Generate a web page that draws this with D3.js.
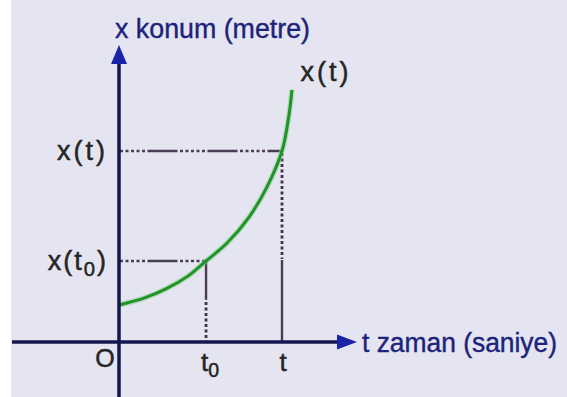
<!DOCTYPE html>
<html>
<head>
<meta charset="utf-8">
<script src="https://cdn.jsdelivr.net/npm/d3@7"></script>
<style>
  html, body { margin: 0; padding: 0; background: #ffffff; }
  svg { display: block; }
  text { font-family: "Liberation Sans", Arial, sans-serif; }
</style>
</head>
<body>
<svg id="chart" width="567" height="397"></svg>
<script>
// Position–time curve x(t), read as (time, position) pairs
const timeValues = [0, 1.53, 2.88, 4.23, 5.34, 6.63, 7.98, 9.08, 10, 10.43, 10.61];
const positionValues = [1.94, 2.30, 2.78, 3.45, 4.24, 5.18, 6.54, 8.12, 10, 11.9, 13.2];

// Marked instants and the positions at those instants
const markedTimes = [5.34, 10];
const markedPositions = [4.24, 10];
const timeTickLabels = ["t0", "t"];
const positionTickLabels = ["x(t0)", "x(t)"];

const curveLabel = "x(t)";
const originLabel = "O";
const xAxisTitle = "t zaman (saniye)";
const yAxisTitle = "x konum (metre)";

const W = 567, H = 397;
const svg = d3.select("#chart");

// Panel background
svg.append("rect").attr("x", 11).attr("y", -12).attr("width", W + 20).attr("height", H + 24)
  .attr("rx", 12).attr("fill", "#e5e5f1");

const x = d3.scaleLinear().domain([0, 10]).range([119, 282]);
const y = d3.scaleLinear().domain([0, 10]).range([342, 151]);

const tExtent = [x.invert(12), x.invert(350)];
const pExtent = [y.invert(H + 2), y.invert(56)];

const axisColor = "#14164e";
const arrowColor = "#1a24a8";
const guideColor = "#4a3c55";

// Guide lines: alternating dotted and solid runs
const dotRun = "3,2.5,3,2.5,3,2.5,3,2.5,3,2.5";
const hPattern = dotRun + ",30,2.5";
const guideW = 2.4;

const g = svg.append("g");

markedTimes.forEach((tv, i) => {
  const pv = markedPositions[i];
  // horizontal guide from the position axis to the curve
  g.append("line")
    .attr("x1", x(0) + 1).attr("x2", x(tv))
    .attr("y1", y(pv)).attr("y2", y(pv))
    .attr("stroke", guideColor).attr("stroke-width", guideW)
    .attr("stroke-dasharray", hPattern);
});

// vertical dotted runs, drawn as a path of short dashes
function dottedV(px, yTop, yBottom) {
  const d = d3.path();
  for (let yy = yTop; yy < yBottom; yy += 5.5) {
    d.moveTo(px, yy);
    d.lineTo(px, Math.min(yy + 3, yBottom));
  }
  g.append("path").attr("d", d.toString()).attr("fill", "none")
    .attr("stroke", "#3e3249").attr("stroke-width", 2.8);
}

// vertical guide at t: dotted down to the lower guide, solid below it
dottedV(x(markedTimes[1]), y(markedPositions[1]) + 2, y(markedPositions[0]) - 2);
g.append("line")
  .attr("x1", x(markedTimes[1])).attr("x2", x(markedTimes[1]))
  .attr("y1", y(markedPositions[0]) - 1).attr("y2", y(0))
  .attr("stroke", guideColor).attr("stroke-width", guideW);

// vertical guide at t0: solid near the curve, dotted toward the time axis
const midY = y(0) - (y(0) - y(markedPositions[0])) * 0.52;
g.append("line")
  .attr("x1", x(markedTimes[0])).attr("x2", x(markedTimes[0]))
  .attr("y1", y(markedPositions[0])).attr("y2", midY)
  .attr("stroke", guideColor).attr("stroke-width", guideW);
dottedV(x(markedTimes[0]), midY + 2, y(0));

// Curve
const pts = timeValues.map((tv, i) => [tv, positionValues[i]]);
const line = d3.line().x(d => x(d[0])).y(d => y(d[1])).curve(d3.curveCatmullRom.alpha(0.5));
g.append("path").attr("d", line(pts)).attr("fill", "none")
  .attr("stroke", "#8fd08f").attr("stroke-width", 5.5).attr("stroke-opacity", 0.55);
g.append("path").attr("d", line(pts)).attr("fill", "none")
  .attr("stroke", "#1f9428").attr("stroke-width", 3);

// Axes
g.append("line").attr("x1", x(tExtent[0])).attr("x2", x(tExtent[1]) - 6)
  .attr("y1", y(0)).attr("y2", y(0)).attr("stroke", axisColor).attr("stroke-width", 3.5);
g.append("line").attr("x1", x(0)).attr("x2", x(0))
  .attr("y1", y(pExtent[0])).attr("y2", y(pExtent[1]) + 6).attr("stroke", axisColor).attr("stroke-width", 3.5);

// Arrow heads
const tx = x(tExtent[1]) + 7, ty = y(0);
g.append("path").attr("d", `M${tx},${ty} L${tx - 20},${ty - 7.5} L${tx - 20},${ty + 7.5} Z`)
  .attr("fill", arrowColor);
const ax = x(0), ay = y(pExtent[1]) - 11;
g.append("path").attr("d", `M${ax},${ay} L${ax - 8},${ay + 19} L${ax + 8},${ay + 19} Z`)
  .attr("fill", arrowColor);

// Labels with subscript support
function label(sel, txt, px, py, anchor, size, color, spacing) {
  const t = sel.append("text").attr("x", px).attr("y", py)
    .attr("text-anchor", anchor).attr("font-size", size).attr("fill", color)
    .attr("stroke", color).attr("stroke-width", 0.5)
    .attr("letter-spacing", spacing || 0);
  const m = txt.match(/^(.*?)(t)0(\).*)?$/);
  if (m) {
    t.append("tspan").text(m[1] + m[2]);
    t.append("tspan").attr("font-size", size * 0.75).attr("dy", size * 0.22).text("0");
    if (m[3]) t.append("tspan").attr("dy", -size * 0.22).text(m[3]);
  } else {
    t.text(txt);
  }
  return t;
}

const tickColor = "#262626";
positionTickLabels.forEach((s, i) => {
  label(g, s, x(0) - 11, y(markedPositions[i]) + 9, "end", 27, tickColor, i === 0 ? 2 : 3);
});
timeTickLabels.forEach((s, i) => {
  label(g, s, x(markedTimes[i]) + (i === 0 ? 4 : 1), y(0) + 29, "middle", 26, tickColor, 0);
});
label(g, originLabel, x(0) - 14, y(0) + 25, "middle", 25, tickColor, 0);

// Curve label and axis titles
label(g, curveLabel, 326, 81, "middle", 27, tickColor, 3);
const titleColor = "#1c237a";
g.append("text").attr("x", 362).attr("y", y(0) + 10).attr("font-size", 27)
  .attr("fill", titleColor).attr("stroke", titleColor).attr("stroke-width", 0.4)
  .attr("textLength", 195).attr("lengthAdjust", "spacingAndGlyphs").text(xAxisTitle);
g.append("text").attr("x", 115).attr("y", 38).attr("font-size", 27)
  .attr("fill", titleColor).attr("stroke", titleColor).attr("stroke-width", 0.4)
  .attr("textLength", 195).attr("lengthAdjust", "spacingAndGlyphs").text(yAxisTitle);
</script>
</body>
</html>
